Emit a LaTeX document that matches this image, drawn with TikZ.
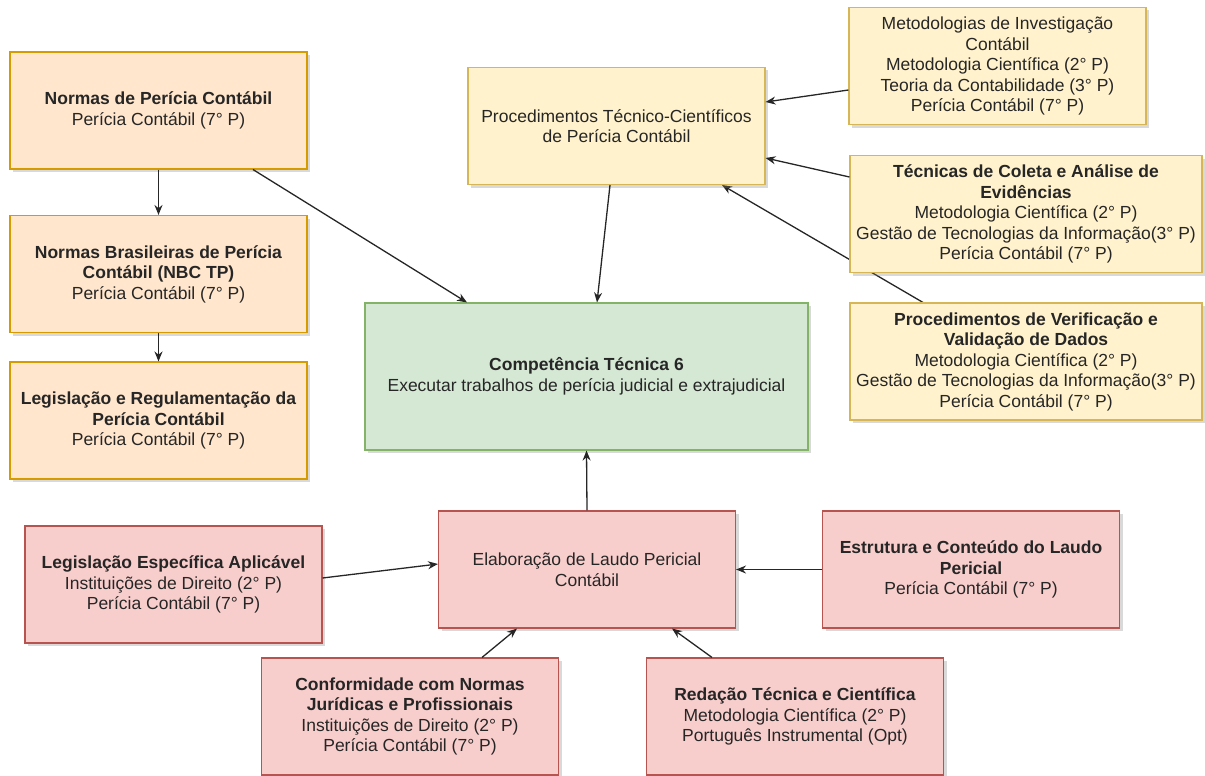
\documentclass[tikz,border=0pt]{standalone}
\usepackage{fontspec}
\setmainfont{Liberation Sans}
\usepackage{tikz}
\usetikzlibrary{shadows}
\usetikzlibrary{positioning}
\usetikzlibrary{arrows.meta}
\usetikzlibrary{backgrounds}

\definecolor{normafill}{HTML}{FFE6CC}
\definecolor{normaline}{HTML}{D79B00}
\definecolor{procfill}{HTML}{FFF2CC}
\definecolor{procline}{HTML}{D6B656}
\definecolor{compfill}{HTML}{D5E8D4}
\definecolor{compline}{HTML}{82B366}
\definecolor{laudofill}{HTML}{F8CECC}
\definecolor{laudoline}{HTML}{B85450}

\begin{document}
\begin{tikzpicture}[x=1pt, y=-1pt,
        >={Stealth[length=10pt, width=8pt]},
        box/.style={rectangle, line width=1.1pt, minimum width=297pt, minimum height=117pt, inner sep=0pt, align=center, text=black!85, font=\fontsize{17.5pt}{20.5pt}\selectfont, drop shadow={opacity=0.3, shadow xshift=3pt, shadow yshift=-3pt}},
        norma/.style={box, draw=normaline, fill=normafill},
        proc/.style={box, draw=procline, fill=procfill},
        comp/.style={box, draw=compline, fill=compfill, minimum width=443pt, minimum height=147pt},
        laudo/.style={box, draw=laudoline, fill=laudofill},
        link/.style={->, line width=1.3pt, black!85}
      ]
        \useasboundingbox (0,0) rectangle (1205,776);

        % left column
        \node[norma]  (nps)  at (158.5,110.5)                         {\textbf{Normas de Perícia Contábil}\\Perícia Contábil (7° P)};
        \node[norma]  (nbc)  [below of=nps, node distance=163.5pt]    {\textbf{Normas Brasileiras de Perícia}\\\textbf{Contábil (NBC TP)}\\Perícia Contábil (7° P)};
        \node[norma]  (lrp)  [below of=nbc, node distance=146.5pt]    {\textbf{Legislação e Regulamentação da}\\\textbf{Perícia Contábil}\\Perícia Contábil (7° P)};

        % centre
        \node[proc]   (ptc)  at (616.5,126)                           {Procedimentos Técnico-Científicos\\de Perícia Contábil};
        \node[comp]   (ct6)  at (586.5,376.5)                         {\textbf{Competência Técnica 6}\\Executar trabalhos de perícia judicial e extrajudicial};

        % right column
        \node[proc]   (mic)  at (997.5,66)                            {Metodologias de Investigação\\Contábil\\Metodologia Científica (2° P)\\Teoria da Contabilidade (3° P)\\Perícia Contábil (7° P)};
        \node[proc, minimum width=352pt]   (tca)  at (1026,214)       {\textbf{Técnicas de Coleta e Análise de}\\\textbf{Evidências}\\Metodologia Científica (2° P)\\Gestão de Tecnologias da Informação(3° P)\\Perícia Contábil (7° P)};
        \node[proc, minimum width=352pt]   (pvv)  at (1026,361.5)     {\textbf{Procedimentos de Verificação e}\\\textbf{Validação de Dados}\\Metodologia Científica (2° P)\\Gestão de Tecnologias da Informação(3° P)\\Perícia Contábil (7° P)};

        % laudo
        \node[laudo]  (elab) at (587,569.5)                           {Elaboração de Laudo Pericial\\Contábil};
        \node[laudo]  (lea)  at (173.5,584.5)                         {\textbf{Legislação Específica Aplicável}\\Instituições de Direito (2° P)\\Perícia Contábil (7° P)};
        \node[laudo]  (ecl)  at (971,569.5)                           {\textbf{Estrutura e Conteúdo do Laudo}\\\textbf{Pericial}\\Perícia Contábil (7° P)};
        \node[laudo]  (conf) at (410,716.5)                           {\textbf{Conformidade com Normas}\\\textbf{Jurídicas e Profissionais}\\Instituições de Direito (2° P)\\Perícia Contábil (7° P)};
        \node[laudo]  (rtc)  at (795,716.5)                           {\textbf{Redação Técnica e Científica}\\Metodologia Científica (2° P)\\Português Instrumental (Opt)};

        \draw[link]  (nps.south) -- (nbc.north);
        \draw[link]  (nbc.south) -- (lrp.north);
        \draw[link]  ([xshift=94.5pt]nps.south) -- ([xshift=-119.5pt]ct6.north);
        \draw[link]  ([xshift=-6.5pt]ptc.south) -- ([xshift=10.5pt]ct6.north);

        \draw[link]  ([yshift=-24pt]mic.west) -- ([yshift=24pt]ptc.east);
        \draw[link]  ([yshift=37pt]tca.west) -- ([yshift=-32pt]ptc.east);
        % passes behind tca
        \begin{scope}[on background layer]
          \draw[link]  ([xshift=-103pt]pvv.north) -- ([xshift=105.5pt]ptc.south);
        \end{scope}

        \draw[link]  (elab.north) -- (ct6.south);
        \draw[link]  ([yshift=6.5pt]lea.east) -- ([yshift=5.5pt]elab.west);
        \draw[link]  (ecl.west) -- (elab.east);
        \draw[link]  ([xshift=72pt]conf.north) -- ([xshift=-70pt]elab.south);
        \draw[link]  ([xshift=-83pt]rtc.north) -- ([xshift=85pt]elab.south);
      \end{tikzpicture}
\end{document}
